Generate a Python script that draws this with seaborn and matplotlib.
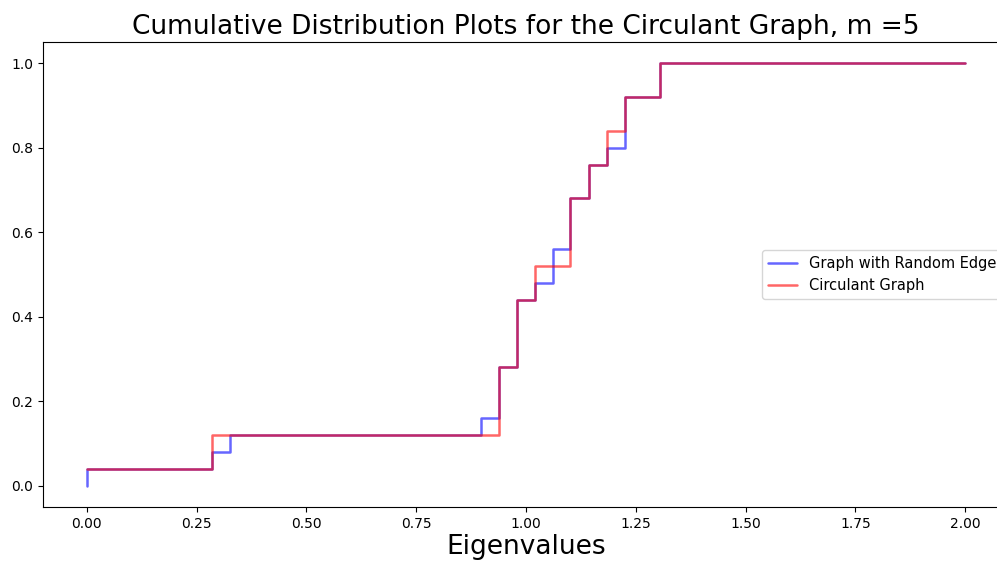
import numpy as np
import pandas as pd
import seaborn as sns
import matplotlib
matplotlib.use("Agg")
import matplotlib.pyplot as plt

# Eigenvalues (25 each)
random_edge_vals = [0.0, 0.284, 0.325, 0.898, 0.938, 0.938, 0.938,
                    0.979, 0.979, 0.979, 0.979, 1.021, 1.061, 1.061,
                    1.101, 1.101, 1.101, 1.1425, 1.1425, 1.1835,
                    1.2246, 1.2246, 1.2246, 1.305, 1.305]
circulant_vals = [0.0, 0.284, 0.284, 0.938, 0.938, 0.938, 0.938,
                  0.979, 0.979, 0.979, 0.979, 1.021, 1.021,
                  1.101, 1.101, 1.101, 1.101, 1.1425, 1.1425,
                  1.1835, 1.1835, 1.2246, 1.2246, 1.305, 1.305]
x_end = 2.0


def ecdf_frame(vals, start_zero):
    v = np.sort(np.asarray(vals))
    u, c = np.unique(v, return_counts=True)
    y = np.cumsum(c) / len(v)
    xs = list(u) + [x_end]
    ys = list(y) + [1.0]
    if start_zero:
        xs = [u[0]] + xs
        ys = [0.0] + ys
    return pd.DataFrame({"x": xs, "y": ys, "i": range(len(xs))})


sns.set_style("ticks", rc={"axes.edgecolor": "black", "text.color": "black",
                           "axes.labelcolor": "black", "xtick.color": "black",
                           "ytick.color": "black"})
plt.rcParams['font.family'] = ['DejaVu Sans']

fig = plt.figure(figsize=(9.97, 5.61), dpi=100)
ax = fig.add_axes([43 / 997, 1 - 507 / 561, (1009 - 43) / 997, (507 - 42) / 561])

df_b = ecdf_frame(random_edge_vals, True)
df_r = ecdf_frame(circulant_vals, False)
sns.lineplot(data=df_b, x="x", y="y", sort=False, estimator=None, ax=ax,
             color="blue", alpha=0.6, lw=1.8, drawstyle="steps-post",
             label="Graph with Random Edge")
sns.lineplot(data=df_r, x="x", y="y", sort=False, estimator=None, ax=ax,
             color="red", alpha=0.6, lw=1.8, drawstyle="steps-post",
             label="Circulant Graph")

ax.set_xlim(-0.1, 2.1)
ax.set_ylim(-0.05, 1.05)
ax.set_xticks(np.arange(0, 2.01, 0.25))
ax.set_xticklabels([f"{t:.2f}" for t in np.arange(0, 2.01, 0.25)])
ax.set_yticks(np.arange(0, 1.01, 0.2))
ax.set_yticklabels([f"{t:.1f}" for t in np.arange(0, 1.01, 0.2)])
ax.tick_params(labelsize=10, colors="black")
ax.set_xlabel("Eigenvalues", fontsize=19, labelpad=2, color="black")
ax.set_ylabel("")
ax.set_title("Cumulative Distribution Plots for the Circulant Graph, m =5",
             fontsize=19, color="black")
for s in ax.spines.values():
    s.set_visible(True)
    s.set_color("black")
ax.legend(loc="center right", fontsize=10.5)

fig.savefig("out.png", dpi=100)
